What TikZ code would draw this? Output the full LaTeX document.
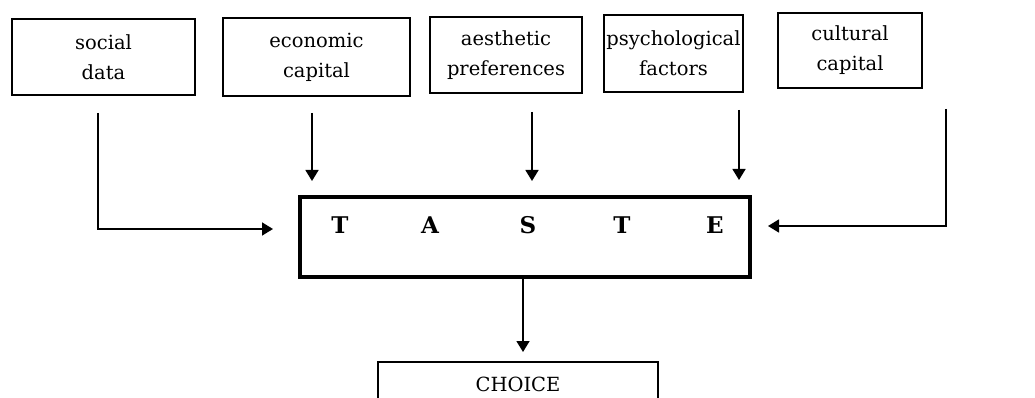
\documentclass[tikz,border=0pt]{standalone}
\usepackage{fontspec}
\setmainfont{DejaVu Serif}
\usetikzlibrary{arrows.meta}
\tikzset{
  factor/.style={draw, line width=1.5pt, align=center, inner sep=0pt,
    font=\fontsize{19.5}{30}\selectfont},
  tastebox/.style={draw, line width=4pt, inner sep=0pt},
  letter/.style={anchor=base, inner sep=0pt, font=\fontsize{23}{27}\bfseries\selectfont},
  arr/.style={line width=1.6pt, -{Triangle[length=11pt,width=13pt]}},
}
\begin{document}
\begin{tikzpicture}[x=1pt,y=-1pt]
\path[use as bounding box, clip] (0,0) rectangle (1035,398);
% factor boxes
\node[factor, minimum width=183pt, minimum height=76pt] (social) at (103.5,57) {social\\data};
\node[factor, minimum width=187pt, minimum height=78pt] (econ) at (316.5,57) {economic\\capital};
\node[factor, minimum width=152pt, minimum height=76pt] (aest) at (506,55) {aesthetic\\preferences};
\node[factor, minimum width=139pt, minimum height=77pt] (psych) at (673.5,53.5) {psychological\\factors};
\node[factor, minimum width=144pt, minimum height=75pt] (cult) at (850,50.5) {cultural\\capital};
% taste box
\node[tastebox, minimum width=450pt, minimum height=80pt] (taste) at (525,237) {};
\node[letter] (l1) at (340,233) {T};
\node[letter] (l2) at (430,233) {A};
\node[letter] (l3) at (528,233) {S};
\node[letter] (l4) at (622,233) {T};
\node[letter] (l5) at (715,233) {E};
% choice box (cut off at bottom)
\node[factor, minimum width=280pt, minimum height=44pt] (choice) at (518,384) {CHOICE};
% connector end points
\coordinate (s0) at (98,113);
\coordinate (s1) at (273,229);
\coordinate (e0) at (312,113);
\coordinate (e1) at (312,181);
\coordinate (a0) at (532,112);
\coordinate (a1) at (532,181);
\coordinate (p0) at (739,110);
\coordinate (p1) at (739,180);
\coordinate (c0) at (946,109);
\coordinate (c1) at (768,226);
\coordinate (t1) at (523,352);
% connectors
\draw[arr] (s0) |- (s1);
\draw[arr] (e0) -- (e1);
\draw[arr] (a0) -- (a1);
\draw[arr] (p0) -- (p1);
\draw[arr] (c0) |- (c1);
\draw[arr] (taste.south -| t1) -- (t1);
\end{tikzpicture}
\end{document}
